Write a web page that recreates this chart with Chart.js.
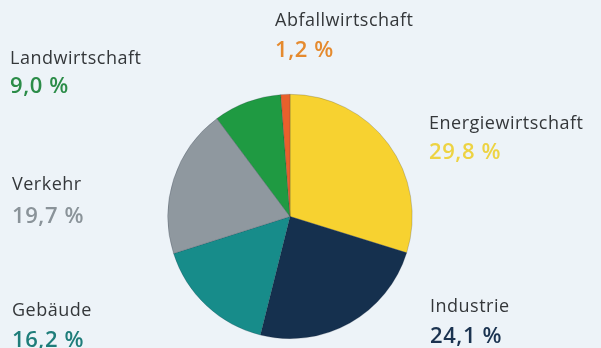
<!DOCTYPE html>
<html>
<head>
<meta charset="utf-8">
<script src="https://cdn.jsdelivr.net/npm/chart.js@4/dist/chart.umd.min.js"></script>
<style>
  html, body { margin: 0; padding: 0; background: #EDF3F8; }
  #wrap { position: relative; width: 601px; height: 348px; }
</style>
</head>
<body>
<div id="wrap"><canvas id="c" width="601" height="348"></canvas></div>
<script>
// Data (clockwise from 12 o'clock)
const categories = ["Energiewirtschaft", "Industrie", "Gebäude", "Verkehr", "Landwirtschaft", "Abfallwirtschaft"];
const shares = [29.8, 24.1, 16.2, 19.7, 9.0, 1.2];
const valueLabels = ["29,8 %", "24,1 %", "16,2 %", "19,7 %", "9,0 %", "1,2 %"];

const sliceColors = ["#F7D230", "#15304E", "#178C8A", "#8F989F", "#1F9A42", "#E8602C"];
const valueColors = ["#EDD343", "#1B3350", "#1E7D7A", "#8A9399", "#2B8C48", "#E58A2E"];
// label anchor: left x, label baseline y, value baseline y
const labelPos = [
  [429, 129, 159],
  [430, 312, 343],
  [12, 316, 347],
  [12, 190, 223],
  [10, 64, 93],
  [275, 26, 57]
];

const labelPlugin = {
  id: 'sideLabels',
  afterDraw(chart) {
    const ctx = chart.ctx;
    ctx.save();
    ctx.textAlign = 'left';
    ctx.textBaseline = 'alphabetic';
    categories.forEach((name, i) => {
      const [x, y1, y2] = labelPos[i];
      ctx.font = '400 18px "Open Sans", "Noto Sans", sans-serif';
      ctx.letterSpacing = '0.5px';
      ctx.fillStyle = '#34373a';
      ctx.fillText(name, x, y1);
      ctx.font = '600 22px "Open Sans", "Noto Sans", sans-serif';
      ctx.letterSpacing = '0.6px';
      ctx.fillStyle = valueColors[i];
      ctx.fillText(valueLabels[i], x, y2);
    });
    ctx.restore();
  }
};

new Chart(document.getElementById('c'), {
  type: 'pie',
  data: {
    labels: categories,
    datasets: [{
      data: shares,
      backgroundColor: sliceColors,
      borderWidth: 0.6,
      borderColor: 'rgba(30,40,60,0.35)'
    }]
  },
  options: {
    responsive: false,
    animation: false,
    rotation: 0,
    layout: { padding: { left: 167, right: 188, top: 94, bottom: 9 } },
    plugins: {
      legend: { display: false },
      tooltip: { enabled: false }
    }
  },
  plugins: [labelPlugin]
});
</script>
</body>
</html>
